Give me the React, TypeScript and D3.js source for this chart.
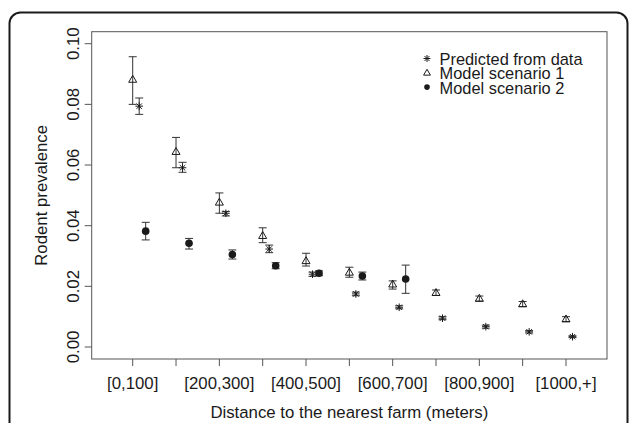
import React from "react";
import * as d3 from "d3";

const categories = ["[0,100]", "[100,200]", "[200,300]", "[300,400]", "[400,500]", "[500,600]", "[600,700]", "[700,800]", "[800,900]", "[900,1000]", "[1000,+]"];
const shownLabels = ["[0,100]", "[200,300]", "[400,500]", "[600,700]", "[800,900]", "[1000,+]"];

const pred = [0.0794, 0.0591, 0.0441, 0.0323, 0.0240, 0.0175, 0.0131, 0.0095, 0.0067, 0.0050, 0.0034];
const predLo = [0.0767, 0.0576, 0.0432, 0.0311, 0.0233, 0.0169, 0.0126, 0.0090, 0.0062, 0.0046, 0.0031];
const predHi = [0.0821, 0.0609, 0.0447, 0.0336, 0.0247, 0.0181, 0.0136, 0.0100, 0.0072, 0.0054, 0.0037];

const scen1 = [0.0882, 0.0644, 0.0477, 0.0367, 0.0284, 0.0246, 0.0207, 0.0179, 0.0160, 0.0142, 0.0092];
const scen1Lo = [0.0800, 0.0591, 0.0441, 0.0344, 0.0267, 0.0230, 0.0191, 0.0170, 0.0151, 0.0133, 0.0084];
const scen1Hi = [0.0957, 0.0691, 0.0508, 0.0393, 0.0309, 0.0263, 0.0218, 0.0188, 0.0168, 0.0150, 0.0100];

const scen2 = [0.0382, 0.0342, 0.0305, 0.0268, 0.0243, 0.0234, 0.0224];
const scen2Lo = [0.0353, 0.0323, 0.0290, 0.0258, 0.0235, 0.0221, 0.0177];
const scen2Hi = [0.0411, 0.0358, 0.0320, 0.0278, 0.0251, 0.0247, 0.0270];

const yTicks = [0, 0.02, 0.04, 0.06, 0.08, 0.1];

const legendItems = ["Predicted from data", "Model scenario 1", "Model scenario 2"];

const FONT = "'Liberation Sans', Arial, Helvetica, sans-serif";
const FS = 16.8;
const INK = "#1a1a1a";
const FRAME = "#555";

function Asterisk({ cx, cy, r }: { cx: number; cy: number; r: number }) {
  const d = r * 0.7071;
  return (
    <g stroke={INK} strokeWidth={1}>
      <line x1={cx - r} y1={cy} x2={cx + r} y2={cy} />
      <line x1={cx} y1={cy - r} x2={cx} y2={cy + r} />
      <line x1={cx - d} y1={cy - d} x2={cx + d} y2={cy + d} />
      <line x1={cx - d} y1={cy + d} x2={cx + d} y2={cy - d} />
    </g>
  );
}

function Triangle({ cx, cy, s }: { cx: number; cy: number; s: number }) {
  const h = s * 0.866 * 2;
  const p = `${cx},${cy - h * 0.6} ${cx - s},${cy + h * 0.4} ${cx + s},${cy + h * 0.4}`;
  return <polygon points={p} fill="white" fillOpacity={0} stroke={INK} strokeWidth={1} />;
}

function ErrBar({ x, y1, y2, w }: { x: number; y1: number; y2: number; w: number }) {
  return (
    <g stroke="#333" strokeWidth={1}>
      <line x1={x} y1={y1} x2={x} y2={y2} />
      <line x1={x - w} y1={y1} x2={x + w} y2={y1} />
      <line x1={x - w} y1={y2} x2={x + w} y2={y2} />
    </g>
  );
}

export default function App() {
  const W = 629;
  const H = 423;
  const left = 91.7, right = 607, top = 31.7, bottom = 359;
  const x = d3.scaleLinear().domain([0, categories.length - 1]).range([132.7, 566]);
  const y = d3.scaleLinear().domain([0, 0.1]).range([347, 43.7]);
  const fmt = d3.format(".2f");
  const offPred = 0.15;
  const offS2 = 0.3;
  const cap = 4;

  return (
    <svg width={W} height={H} style={{ position: "absolute", left: 0, top: 0, background: "white" }} fontFamily={FONT}>
      <rect x={0} y={0} width={W} height={H} fill="white" />
      <rect x={9.5} y={12.5} width={618} height={460} rx={11} ry={11} fill="none" stroke="#1a1a1a" strokeWidth={2} />
      {/* plot frame */}
      <rect x={left} y={top} width={right - left} height={bottom - top} fill="none" stroke={FRAME} strokeWidth={1} />
      {/* y axis ticks */}
      {yTicks.map((t) => (
        <g key={t}>
          <line x1={left} x2={left - 7} y1={y(t)} y2={y(t)} stroke={FRAME} strokeWidth={1} />
          <text transform={`translate(79,${y(t)}) rotate(-90)`} textAnchor="middle" fontSize={FS} fill={INK}>
            {fmt(t)}
          </text>
        </g>
      ))}
      {/* x axis ticks */}
      {categories.map((c, i) => (
        <g key={c}>
          <line x1={x(i)} x2={x(i)} y1={bottom} y2={bottom + 7} stroke={FRAME} strokeWidth={1} />
          {shownLabels.includes(c) && (
            <text x={x(i)} y={388.5} textAnchor="middle" fontSize={FS} fill={INK}>
              {c}
            </text>
          )}
        </g>
      ))}
      <text x={(left + right) / 2} y={418} textAnchor="middle" fontSize={FS} fill={INK}>
        Distance to the nearest farm (meters)
      </text>
      <text transform={`translate(46.7,${(top + bottom) / 2}) rotate(-90)`} textAnchor="middle" fontSize={FS} fill={INK}>
        Rodent prevalence
      </text>

      {/* scenario 1 */}
      {scen1.map((v, i) => (
        <g key={"s1" + i}>
          <ErrBar x={x(i)} y1={y(scen1Hi[i])} y2={y(scen1Lo[i])} w={cap} />
          <Triangle cx={x(i)} cy={y(v)} s={4} />
        </g>
      ))}
      {/* predicted */}
      {pred.map((v, i) => (
        <g key={"p" + i}>
          <ErrBar x={x(i + offPred)} y1={y(predHi[i])} y2={y(predLo[i])} w={cap} />
          <Asterisk cx={x(i + offPred)} cy={y(v)} r={3.8} />
        </g>
      ))}
      {/* scenario 2 */}
      {scen2.map((v, i) => (
        <g key={"s2" + i}>
          <ErrBar x={x(i + offS2)} y1={y(scen2Hi[i])} y2={y(scen2Lo[i])} w={cap} />
          <circle cx={x(i + offS2)} cy={y(v)} r={3.8} fill={INK} />
        </g>
      ))}

      {/* legend */}
      {legendItems.map((t, i) => {
        const by = 65 + i * 14.3;
        const sy = by - 6.5;
        return (
          <g key={t}>
            {i === 0 && <Asterisk cx={427} cy={sy} r={3.5} />}
            {i === 1 && <Triangle cx={427} cy={sy} s={3.4} />}
            {i === 2 && <circle cx={427} cy={sy} r={2.8} fill={INK} />}
            <text x={439.5} y={by} fontSize={16.4} fill={INK}>
              {t}
            </text>
          </g>
        );
      })}
    </svg>
  );
}
